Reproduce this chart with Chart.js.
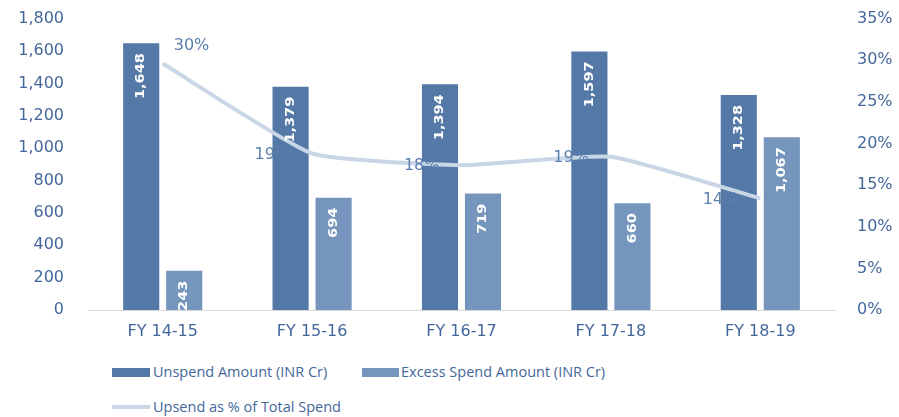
<!DOCTYPE html>
<html>
<head>
<meta charset="utf-8">
<script src="https://cdn.jsdelivr.net/npm/chart.js@4"></script>
<style>
  body { margin: 0; background: #fff; }
  #wrap { position: relative; width: 899px; height: 417px; overflow: hidden; }
  #chart { position: absolute; left: 0; top: -7px; }
  .leg { position: absolute; font: 14.5px "Open Sans", Lato, sans-serif; color: #44679b; white-space: nowrap; }
  .sw { position: absolute; }
</style>
</head>
<body>
<div id="wrap">
  <canvas id="chart" width="899" height="352"></canvas>
  <div class="sw" style="left:112px;top:368px;width:38px;height:9px;background:#5479a7"></div>
  <div class="leg" style="left:153px;top:362px">Unspend Amount (INR Cr)</div>
  <div class="sw" style="left:362px;top:368px;width:37px;height:9px;background:#7595bc"></div>
  <div class="leg" style="left:401px;top:362px">Excess Spend Amount (INR Cr)</div>
  <div class="sw" style="left:112px;top:405px;width:38px;height:4px;background:#c8d6e6"></div>
  <div class="leg" style="left:153px;top:397px">Upsend as % of Total Spend</div>
</div>
<script>
// Data
const categories = ["FY 14-15", "FY 15-16", "FY 16-17", "FY 17-18", "FY 18-19"];
const unspendAmount = [1648, 1379, 1394, 1597, 1328];
const excessSpendAmount = [243, 694, 719, 660, 1067];
const unspendPct = [29.6, 18.8, 17.4, 18.4, 13.4];
const unspendPctLabels = ["30%", "19%", "18%", "19%", "14%"];

const tickColor = "#44679b";
const fontFamily = "'DejaVu Sans', sans-serif";

// Rotated white value labels inside bars
const barLabels = {
  id: "barLabels",
  afterDatasetsDraw(chart) {
    const ctx = chart.ctx;
    ctx.save();
    ctx.fillStyle = "#fff";
    ctx.font = "bold 14px 'Liberation Sans Narrow', 'DejaVu Sans Condensed', sans-serif";
    ctx.textAlign = "right";
    ctx.textBaseline = "middle";
    [0, 1].forEach((di) => {
      const meta = chart.getDatasetMeta(di);
      meta.data.forEach((bar, i) => {
        const v = chart.data.datasets[di].data[i];
        ctx.save();
        ctx.translate(bar.x, bar.y + 10);
        ctx.rotate(-Math.PI / 2);
        ctx.scale(1.15, 0.9);
        ctx.fillText(v.toLocaleString("en-US"), 0, 0);
        ctx.restore();
      });
    });
    ctx.restore();
  },
};

// Percentage labels of the line
const lineLabels = {
  id: "lineLabels",
  afterDatasetsDraw(chart) {
    const ctx = chart.ctx;
    const meta = chart.getDatasetMeta(2);
    ctx.save();
    ctx.fillStyle = "#5c7fae";
    ctx.font = "16px " + fontFamily;
    ctx.textBaseline = "middle";
    meta.data.forEach((pt, i) => {
      if (i === 0) {
        ctx.textAlign = "left";
        ctx.fillText(unspendPctLabels[i], pt.x + 11, pt.y - 18);
      } else {
        ctx.textAlign = "right";
        ctx.fillText(unspendPctLabels[i], pt.x - 22, pt.y + 1);
      }
    });
    ctx.restore();
  },
};

new Chart(document.getElementById("chart"), {
  data: {
    labels: categories,
    datasets: [
      {
        type: "bar",
        label: "Unspend Amount (INR Cr)",
        data: unspendAmount,
        backgroundColor: "#5479a7",
        yAxisID: "y",
        order: 1,
        categoryPercentage: 0.576,
        barPercentage: 0.84,
      },
      {
        type: "bar",
        label: "Excess Spend Amount (INR Cr)",
        data: excessSpendAmount,
        backgroundColor: "#7595bc",
        yAxisID: "y",
        order: 1,
        categoryPercentage: 0.576,
        barPercentage: 0.84,
      },
      {
        type: "line",
        label: "Upsend as % of Total Spend",
        data: unspendPct,
        borderColor: "#c8d6e6",
        borderWidth: 4,
        pointRadius: 0,
        tension: 0.15,
        yAxisID: "y1",
        order: 0,
      },
    ],
  },
  options: {
    responsive: false,
    animation: false,
    layout: { padding: { top: 2, left: 0, right: 0, bottom: 0 } },
    plugins: {
      legend: { display: false },
      tooltip: { enabled: false },
    },
    scales: {
      x: {
        grid: { display: false },
        border: { color: "#d9d9d9", width: 1 },
        ticks: { color: tickColor, font: { family: fontFamily, size: 16 }, padding: 4 },
        afterFit: (s) => { s.height = 35; },
      },
      y: {
        position: "left",
        min: 0,
        max: 1800,
        grid: { display: false },
        border: { display: false },
        ticks: {
          stepSize: 200,
          color: tickColor,
          font: { family: fontFamily, size: 16 },
          padding: 16,
          callback: (v) => v.toLocaleString("en-US"),
        },
        afterFit: (s) => { s.width = 88; },
      },
      y1: {
        position: "right",
        min: 0,
        max: 35,
        grid: { display: false },
        border: { display: false },
        ticks: {
          stepSize: 5,
          color: tickColor,
          font: { family: fontFamily, size: 16 },
          padding: 14,
          callback: (v) => v + "%",
        },
        afterFit: (s) => { s.width = 64; },
      },
    },
  },
  plugins: [barLabels, lineLabels],
});
</script>
</body>
</html>
